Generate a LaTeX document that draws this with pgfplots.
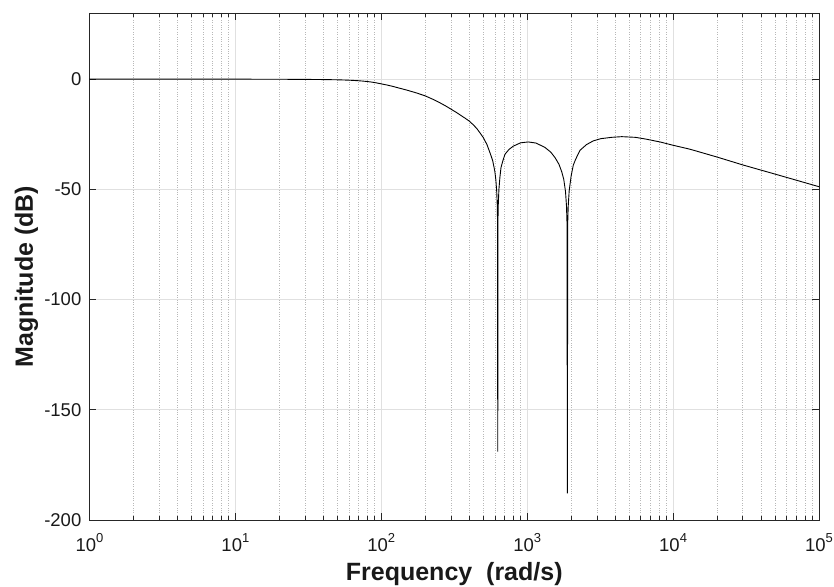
\documentclass[border=0pt]{standalone}
\usepackage{fontspec}
\setmainfont{Liberation Sans}
\usepackage{pgfplots}
\pgfplotsset{compat=1.18}
\newcommand{\dec}[1]{10\raisebox{9bp}{\fontsize{13bp}{13bp}\selectfont #1}}
\begin{document}
\begin{tikzpicture}
\begin{axis}[
  scale only axis, width=729.5bp, height=507bp,
  xmode=log, xmin=1, xmax=1e5, ymin=-200, ymax=30,
  xtick={1,10,100,1000,10000,100000},
  xticklabels={\dec{0},\dec{1},\dec{2},\dec{3},\dec{4},\dec{5}},
  minor xtick={2,3,4,5,6,7,8,9,20,30,40,50,60,70,80,90,200,300,400,500,600,700,800,900,2000,3000,4000,5000,6000,7000,8000,9000,20000,30000,40000,50000,60000,70000,80000,90000},
  ytick={-200,-150,-100,-50,0},
  yticklabels={-200,-150,-100,-50,0},
  minor ytick={},
  xmajorgrids, xminorgrids, ymajorgrids,
  major grid style={black!12, line width=0.6bp},
  minor grid style={black!28, dotted, line width=0.6bp},
  tick align=inside, tick pos=both,
  major tick length=7bp, minor tick length=4bp,
  every tick/.style={black!85, line width=0.6bp},
  axis line style={black!85, line width=0.8bp},
  tick label style={font=\fontsize{18.5bp}{21bp}\selectfont, text=black!90},
  yticklabel style={anchor=east, inner sep=0pt, xshift=-8bp},
  xticklabel style={anchor=north, inner sep=0pt, yshift=-13bp},
  xlabel={\textbf{Frequency\ \ (rad/s)}},
  ylabel={\textbf{Magnitude (dB)}},
  label style={font=\fontsize{25bp}{28bp}\selectfont, text=black!90},
  xlabel style={at={(axis description cs:0.5,0)}, anchor=base, yshift=-60bp, inner sep=0pt},
  ylabel style={at={(axis description cs:-0.07745,0.48)}, anchor=base, inner sep=0pt},
]
\addplot[black, line width=0.9bp] coordinates {
(1,0) (2,0) (5,-0.01) (10,-0.02) (15,-0.04) (20,-0.06) (25,-0.09) (30,-0.12) (35,-0.16) (40,-0.2) (45,-0.25) (50,-0.31) (55,-0.39) (60,-0.48) (65,-0.6) (70,-0.74) (75,-0.9) (80,-1.08) (85,-1.3) (90,-1.55) (95,-1.85) (100,-2.15) (110,-2.7) (120,-3.3) (135,-4.2) (150,-5.0) (175,-6.3) (200,-7.6) (225,-9.1) (250,-10.6) (275,-12.1) (300,-13.6) (325,-15.0) (350,-16.4) (375,-17.7) (400,-19.0) (425,-20.6) (450,-22.3) (475,-24.4) (500,-26.5) (530,-29.7) (560,-34.0) (580,-37.0) (600,-41.8) (610,-45.8) (618,-50.9) (623,-56.7) (626,-64.0) (628.3,-169) (631,-62.6) (634,-56.1) (640,-50.0) (650,-44.6) (661,-40.2) (680,-37.2) (704,-34.1) (750,-31.9) (803,-30.4) (900,-28.9) (1017,-28.5) (1150,-29.0) (1324,-31.0) (1450,-33.1) (1551,-35.6) (1650,-38.6) (1724,-42.0) (1780,-45.4) (1830,-50.9) (1860,-57.7) (1875,-65.6) (1885,-187.9) (1895,-65.5) (1910,-57.7) (1940,-50.7) (2000,-44.0) (2070,-39.0) (2150,-36.3) (2300,-32.3) (2550,-29.7) (2840,-28.0) (3200,-27.0) (3800,-26.4) (4445,-26.1) (5500,-26.4) (6500,-27.2) (8130,-28.5) (10000,-30.0) (13060,-31.8) (19900,-35.3) (30300,-39.0) (51300,-43.3) (100000,-48.8)
};
\end{axis}
\pgfresetboundingbox
\path ([xshift=-89.5bp,yshift=-67bp]current axis.south west) rectangle ([xshift=15bp,yshift=13bp]current axis.north east);
\end{tikzpicture}
\end{document}
